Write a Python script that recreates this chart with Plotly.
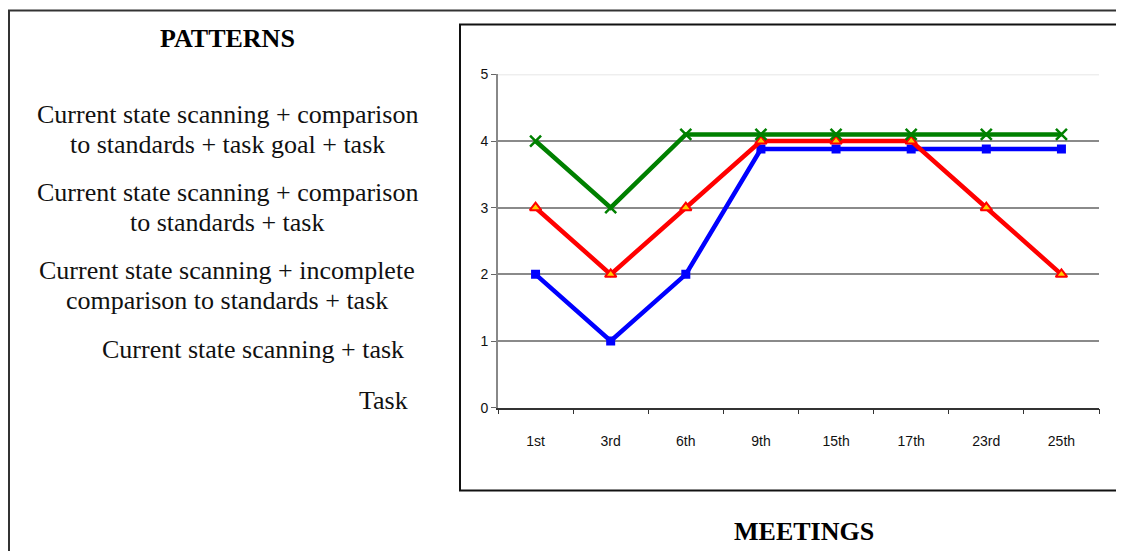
import plotly.graph_objects as go

W, H = 1116, 552

meetings = ["1st", "3rd", "6th", "9th", "15th", "17th", "23rd", "25th"]
green_vals = [4, 3, 4.1, 4.1, 4.1, 4.1, 4.1, 4.1]
red_vals = [3, 2, 3, 4, 4, 4, 3, 2]
blue_vals = [2, 1, 2, 3.88, 3.88, 3.88, 3.88, 3.88]

patterns = [
    "Current state scanning + comparison<br>to standards + task goal + task",
    "Current state scanning + comparison<br>to standards + task",
    "Current state scanning + incomplete<br>comparison to standards + task",
    "Current state scanning + task",
    "Task",
]
# (centre x, centre y of first line) in page pixels for each pattern label
pattern_pos = [(227, 113), (227, 191), (227, 270), (253, 349), (383, 400)]


# page pixels -> paper coords (the page shifts the figure and squeezes it a bit vertically)
def px(x):
    return (x - 8) / W


def py(y):
    return 1 - ((y - 14.5) / 0.973) / H


fig = go.Figure()

fig.add_trace(go.Scatter(
    x=meetings, y=blue_vals, mode="lines+markers", showlegend=False,
    line={"color": "#0000ff", "width": 4.5},
    marker={"symbol": "square", "size": 9, "color": "#0000ff"},
))
fig.add_trace(go.Scatter(
    x=meetings, y=red_vals, mode="lines+markers", showlegend=False,
    line={"color": "#ff0000", "width": 4.5},
    marker={"symbol": "triangle-up", "size": 10, "color": "#ffcc00",
            "line": {"color": "#ff0000", "width": 2}},
))
fig.add_trace(go.Scatter(
    x=meetings, y=green_vals, mode="lines+markers", showlegend=False,
    line={"color": "#008000", "width": 4.5},
    marker={"symbol": "x-thin", "size": 11,
            "line": {"color": "#008000", "width": 2.5}},
))

serif = "Liberation Serif, Times New Roman, serif"

fig.add_annotation(x=px(227), y=py(37), xref="paper", yref="paper",
                   xanchor="center", yanchor="middle",
                   text="<b>PATTERNS</b>", showarrow=False,
                   font={"family": serif, "size": 26, "color": "#000"})
fig.add_annotation(x=px(804), y=py(531), xref="paper", yref="paper",
                   xanchor="center", yanchor="middle",
                   text="<b>MEETINGS</b>", showarrow=False,
                   font={"family": serif, "size": 26, "color": "#000"})
for label, (cx, cy) in zip(patterns, pattern_pos):
    for i, line in enumerate(label.split("<br>")):
        fig.add_annotation(x=px(cx), y=py(cy + 30 * i), xref="paper", yref="paper",
                           xanchor="center", yanchor="middle",
                           text=line, showarrow=False,
                           font={"family": serif, "size": 26, "color": "#111"})

# outer frame and chart frame
fig.add_shape(type="rect", xref="paper", yref="paper",
              x0=px(9), y0=py(570), x1=px(1140), y1=py(9),
              line={"color": "#333", "width": 2})
fig.add_shape(type="rect", xref="paper", yref="paper",
              x0=px(460), y0=py(490), x1=px(1117), y1=py(23),
              line={"color": "#111", "width": 2})

# Excel-like gridline shading: light top line, dark line at 1
fig.add_hline(y=5, line={"color": "#dddddd", "width": 1.5}, layer="below")
fig.add_hline(y=1, line={"color": "#222222", "width": 1.5}, layer="below")

tick_font = {"family": "Liberation Sans Narrow, Arial Narrow, sans-serif",
             "size": 14, "color": "#111"}

fig.update_layout(
    width=W, height=H,
    paper_bgcolor="white", plot_bgcolor="white",
    margin={"l": 0, "r": 0, "t": 0, "b": 0},
    xaxis={"domain": [px(498), px(1099)], "range": [-0.5, 7.5],
           "type": "category", "tickson": "boundaries",
           "ticks": "outside", "ticklen": 5, "tickcolor": "#333",
           "showline": True, "linecolor": "#333", "linewidth": 1.5,
           "showgrid": False, "ticklabelstandoff": 20, "tickfont": tick_font},
    yaxis={"domain": [py(407), py(73)], "range": [0, 5],
           "tickvals": [0, 1, 2, 3, 4, 5],
           "ticks": "outside", "ticklen": 5, "tickcolor": "#666",
           "showline": True, "linecolor": "#888", "linewidth": 2,
           "showgrid": True, "gridcolor": "#8a8a8a", "gridwidth": 1.5,
           "zeroline": False, "tickfont": tick_font},
)

fig.write_html("out.html")
